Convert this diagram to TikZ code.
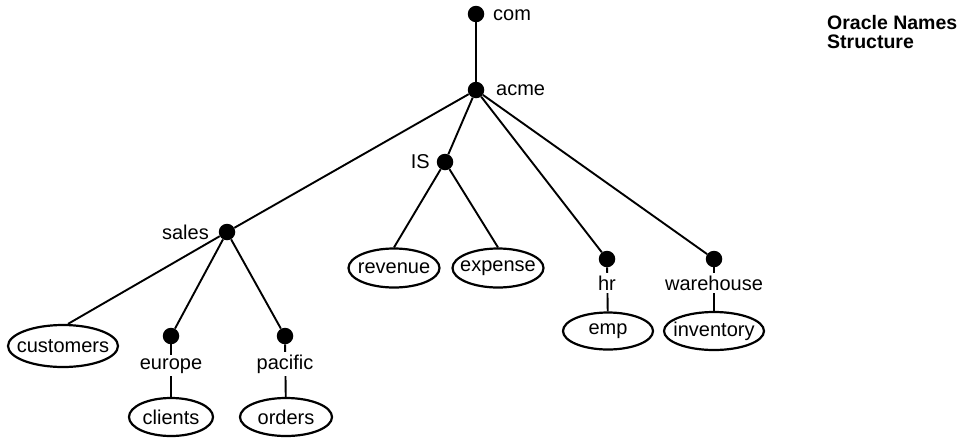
\documentclass[tikz,border=0pt]{standalone}
\usepackage{fontspec}
\setmainfont{Liberation Sans}
\usetikzlibrary{shapes.geometric}
\newcommand{\leaftext}[1]{\makebox[0pt]{#1}}
\begin{document}
\begin{tikzpicture}[x=1pt,y=-1pt,
  dot/.style={circle,fill=black,inner sep=0pt,minimum size=16.5pt},
  lbl/.style={font=\fontsize{20}{20}\selectfont,inner sep=0pt},
  midlbl/.style={lbl,fill=white,inner ysep=3pt,inner xsep=1pt},
  leaf/.style={ellipse,draw,line width=2.2pt,inner sep=0pt,font=\fontsize{20}{20}\selectfont},
  edge/.style={line width=1.9pt},
  ttl/.style={font=\fontsize{19.5}{20}\selectfont\bfseries,inner sep=0pt,anchor=base west}]
\useasboundingbox (0,0) rectangle (979,437);
% dots
\node[dot] (com) at (476,14) {};
\node[dot] (acme) at (476,90) {};
\node[dot] (is) at (445,162) {};
\node[dot] (sales) at (227,232) {};
\node[dot] (europe) at (171,336) {};
\node[dot] (pacific) at (285,336) {};
\node[dot] (hr) at (607,259) {};
\node[dot] (wh) at (714,259) {};
% leaves
\node[leaf,minimum width=110pt,minimum height=42pt] (cust) at (63,346) {\leaftext{customers}};
\node[leaf,minimum width=84pt,minimum height=38pt] (clients) at (171,417) {\leaftext{clients}};
\node[leaf,minimum width=92pt,minimum height=38pt] (orders) at (286,417) {\leaftext{orders}};
\node[leaf,minimum width=91pt,minimum height=39pt] (revenue) at (394,268) {\leaftext{revenue}};
\node[leaf,minimum width=91pt,minimum height=39pt] (expense) at (498,268) {\leaftext{expense}};
\node[leaf,minimum width=90pt,minimum height=37pt] (emp) at (608,331) {\leaftext{emp}};
\node[leaf,minimum width=100pt,minimum height=38pt] (inv) at (714,331) {\leaftext{inventory}};
% connectors
\draw[edge] (com) -- (acme);
\draw[edge] (acme) -- (sales);
\draw[edge] (acme) -- (is);
\draw[edge] (acme) -- (hr);
\draw[edge] (acme) -- (wh);
\draw[edge] (is) -- (revenue.north);
\draw[edge] (is) -- (expense.north);
\draw[edge] (sales) -- ([xshift=5pt]cust.north);
\draw[edge] (sales) -- (europe);
\draw[edge] (sales) -- (pacific);
\draw[edge] (europe) -- (clients);
\draw[edge] (pacific) -- (orders);
\draw[edge] (hr) -- (emp);
\draw[edge] (wh) -- (inv);
% labels
\node[lbl,anchor=base west] (tcom) at (493,20) {com};
\node[lbl,anchor=base west] (tacme) at (496,95) {acme};
\node[lbl,anchor=base east] (tis) at (430,168) {IS};
\node[lbl,anchor=base east] (tsales) at (209,239) {sales};
\node[midlbl,anchor=base] (teur) at (171,369) {europe};
\node[midlbl,anchor=base] (tpac) at (285,369) {pacific};
\node[midlbl,anchor=base] (thr) at (607,290) {hr};
\node[midlbl,anchor=base] (twh) at (714,290) {warehouse};
\node[ttl] (title1) at (827,29) {Oracle Names};
\node[ttl] (title2) at (827,48) {Structure};
\end{tikzpicture}
\end{document}
